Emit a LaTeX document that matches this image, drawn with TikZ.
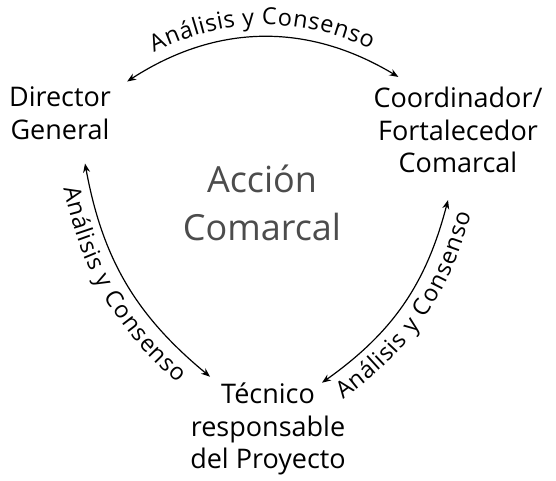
\documentclass[tikz,border=0pt]{standalone}
\usepackage{fontspec}
\setmainfont{Open Sans}
\usepackage{tikz}
\usetikzlibrary{arrows.meta,decorations.text}
\definecolor{accGray}{gray}{0.3}
\newcommand{\lblfont}{\fontsize{23.5}{25}\selectfont}

\begin{document}
\begin{tikzpicture}[x=1pt, y=1pt,
  role/.style={align=center, font=\fontsize{27}{32.5}\selectfont, inner sep=2pt},
  link/.style={>={Stealth[length=9pt,width=7pt]}, <->, line width=1.2pt},
  lbl/.style={postaction={decorate, decoration={text along path, text align=center,
              raise=#1, text={|\lblfont|Análisis y Consenso}}}}]
  \useasboundingbox (0,0) rectangle (556,480);
  \node[role] (dir) at (60,367) {Director\\General};
  \node[role] (coord) at (458,350) {Coordinador/\\Fortalecedor\\Comarcal};
  \node[role] (tec) at (268,51) {Técnico\\responsable\\del Proyecto};
  \node[align=center, font=\fontsize{36}{48}\selectfont, text=accGray] (acc) at (262,277) {Acción\\Comarcal};
  % dos flechas de ida y vuelta con su texto
  \draw[link, lbl=12pt] ([xshift=14pt,yshift=3pt]dir.north east) to[bend left=32] ([xshift=27pt,yshift=8pt]coord.north west);
  \draw[link, lbl=-26pt] ([xshift=25pt,yshift=-22pt]dir.south) to[bend right=20] ([xshift=22pt,yshift=4pt]tec.north west);
  \draw[link, lbl=-26pt] ([xshift=54pt,yshift=-2pt]tec.north) to[bend right=20] ([xshift=-10pt,yshift=-25pt]coord.south);
\end{tikzpicture}
\end{document}
